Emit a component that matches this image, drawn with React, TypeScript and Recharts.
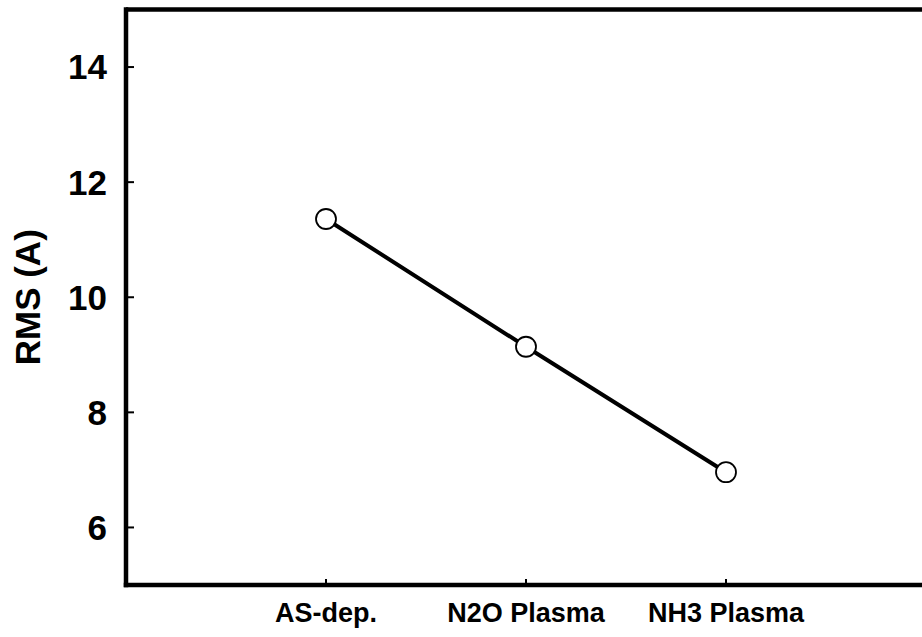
import { LineChart, Line, XAxis, YAxis, ReferenceLine } from "recharts";

// RMS roughness per surface treatment
const treatments = ["AS-dep.", "N2O Plasma", "NH3 Plasma"];
const rmsValues = [11.36, 9.14, 6.96];
const yTicks = [6, 8, 10, 12, 14];

const data = treatments.map((name, i) => ({ pos: i + 1, name, rms: rmsValues[i] }));

const font = "'Liberation Sans', Arial, Helvetica, sans-serif";
const frame = { stroke: "#000", strokeWidth: 4.5, strokeLinecap: "square" as const };
const tickMark = { stroke: "#000", strokeWidth: 2 };

export default function App() {
  return (
    <div
      style={{
        position: "fixed",
        left: 0,
        top: 0,
        width: 922,
        height: 637,
        overflow: "hidden",
        background: "#fff",
      }}
    >
      <LineChart
        width={960}
        height={637}
        data={data}
        margin={{ top: 9.5, right: 33, bottom: 0, left: 0 }}
      >
        <XAxis
          dataKey="pos"
          type="number"
          domain={[0, 4]}
          ticks={[1, 2, 3]}
          tickFormatter={(v: number) => treatments[v - 1] ?? ""}
          height={52}
          axisLine={frame}
          tickLine={tickMark}
          tickSize={-6}
          tickMargin={24}
          interval={0}
          tick={{ fill: "#000", fontSize: 27, fontWeight: "bold", fontFamily: font }}
        />
        <YAxis
          type="number"
          domain={[5, 15]}
          ticks={yTicks}
          width={126}
          axisLine={frame}
          tickLine={tickMark}
          tickSize={-8}
          tickMargin={27}
          tick={{ fill: "#000", fontSize: 35, fontWeight: "bold", fontFamily: font }}
          label={{
            value: "RMS (A)",
            angle: -90,
            position: "insideLeft",
            offset: 28,
            style: {
              textAnchor: "middle",
              fill: "#000",
              fontSize: 35,
              fontWeight: "bold",
              fontFamily: font,
            },
          }}
        />
        <YAxis
          yAxisId="right"
          orientation="right"
          type="number"
          domain={[5, 15]}
          ticks={yTicks}
          width={1}
          axisLine={frame}
          tickLine={tickMark}
          tickSize={-8}
          tick={false}
        />
        {/* top edge of the frame */}
        <ReferenceLine y={15} stroke="#000" strokeWidth={4.5} />
        <Line
          dataKey="rms"
          type="linear"
          stroke="#000"
          strokeWidth={4}
          dot={{ r: 10, fill: "#fff", stroke: "#000", strokeWidth: 1.8 }}
          activeDot={false}
          isAnimationActive={false}
        />
      </LineChart>
    </div>
  );
}
